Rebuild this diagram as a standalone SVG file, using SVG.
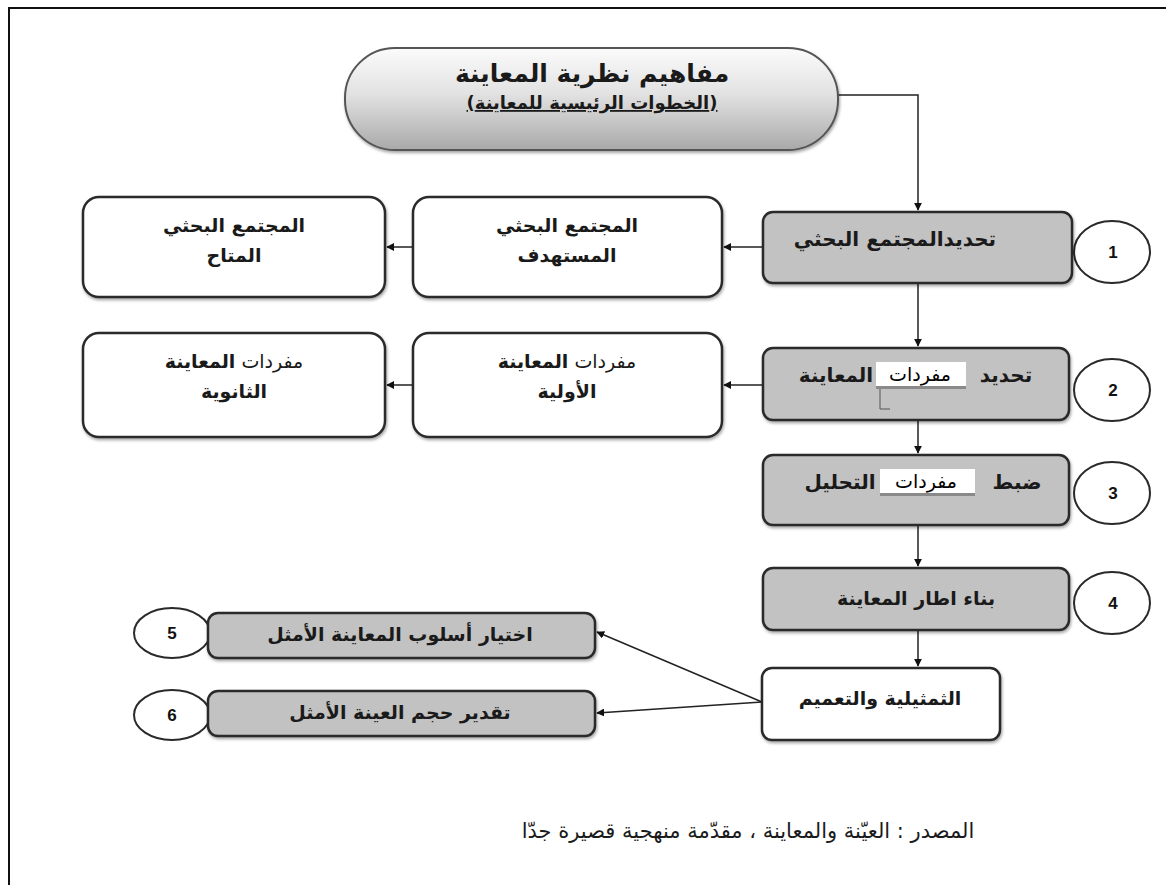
<svg xmlns="http://www.w3.org/2000/svg" width="1166" height="885" viewBox="0 0 1166 885">
<style>
.gbox{fill:#c2c2c2;stroke:#2a2a2a;stroke-width:2.5}
.wbox{fill:#ffffff;stroke:#2a2a2a;stroke-width:2.5}
.circ{fill:#ffffff;stroke:#2a2a2a;stroke-width:2}
.t{font-family:"DejaVu Sans",sans-serif;font-weight:bold;fill:#1a1a1a;text-anchor:middle}
.tw{font-family:"DejaVu Sans",sans-serif;fill:#1a1a1a;text-anchor:middle}
.num{font-family:"Liberation Sans",Arial,sans-serif;font-weight:bold;font-size:17px;fill:#111;text-anchor:middle}
.conn{stroke:#222;stroke-width:1.5;fill:none}
.patch{fill:#ffffff}
.pt{font-family:"Liberation Sans","DejaVu Sans",sans-serif;font-size:19px;fill:#000;text-anchor:middle}
</style>
<defs>
<marker id="arr" viewBox="0 0 10 10" refX="9" refY="5" markerWidth="8" markerHeight="8" markerUnits="userSpaceOnUse" orient="auto">
<path d="M0,0 L10,5 L0,10 z" fill="#111"/>
</marker>
<linearGradient id="pillg" x1="0" y1="0" x2="0" y2="1">
<stop offset="0" stop-color="#fbfbfb"/>
<stop offset="0.45" stop-color="#e2e2e2"/>
<stop offset="1" stop-color="#a9a9a9"/>
</linearGradient>
<filter id="sh" x="-5%" y="-5%" width="110%" height="120%">
<feDropShadow dx="1" dy="2" stdDeviation="1.5" flood-color="#000" flood-opacity="0.35"/>
</filter>
</defs>
<rect width="1166" height="885" fill="#ffffff"/>
<path d="M9,885 L9,8 L1166,8" fill="none" stroke="#111" stroke-width="2"/>

<g id="connectors">
<path class="conn" d="M838,95 H918 V210" marker-end="url(#arr)"/>
<path class="conn" d="M918,283 V346" marker-end="url(#arr)"/>
<path class="conn" d="M918,420 V453" marker-end="url(#arr)"/>
<path class="conn" d="M918,525 V566" marker-end="url(#arr)"/>
<path class="conn" d="M918,630 V666" marker-end="url(#arr)"/>
<path class="conn" d="M763,247 H724" marker-end="url(#arr)"/>
<path class="conn" d="M413,247 H387" marker-end="url(#arr)"/>
<path class="conn" d="M763,385 H724" marker-end="url(#arr)"/>
<path class="conn" d="M413,385 H387" marker-end="url(#arr)"/>
<path class="conn" d="M762,702 L597,632" marker-end="url(#arr)"/>
<path class="conn" d="M762,702 L597,713" marker-end="url(#arr)"/>
</g>

<g id="title">
<rect x="345" y="48" width="493" height="102" rx="50" ry="50" fill="url(#pillg)" stroke="#555" stroke-width="2" filter="url(#sh)"/>
<text class="t" x="592" y="82" font-size="25">مفاهيم نظرية المعاينة</text>
<text class="t" x="592" y="109" font-size="18" text-decoration="underline">(الخطوات الرئيسية للمعاينة)</text>
</g>

<g id="step1">
<ellipse class="circ" cx="1112" cy="252" rx="38" ry="31"/>
<text class="num" x="1113" y="258">1</text>
<rect class="gbox" x="763" y="212" width="309" height="71" rx="10" filter="url(#sh)"/>
<text class="t" x="895" y="246" font-size="20">تحديدالمجتمع البحثي</text>
</g>

<g id="target">
<rect class="wbox" x="413" y="197" width="309" height="100" rx="16" filter="url(#sh)"/>
<text class="t" x="567" y="232" font-size="19">المجتمع البحثي</text>
<text class="t" x="567" y="262" font-size="19">المستهدف</text>
</g>

<g id="available">
<rect class="wbox" x="83" y="197" width="302" height="100" rx="16" filter="url(#sh)"/>
<text class="t" x="234" y="232" font-size="19">المجتمع البحثي</text>
<text class="t" x="234" y="262" font-size="19">المتاح</text>
</g>

<g id="step2">
<ellipse class="circ" cx="1112" cy="390" rx="38" ry="31"/>
<text class="num" x="1113" y="396">2</text>
<rect class="gbox" x="763" y="348" width="306" height="72" rx="10" filter="url(#sh)"/>
<text class="t" x="1006" y="382" font-size="20">تحديد</text>
<text class="t" x="836" y="382" font-size="20">المعاينة</text>
<rect x="876" y="384" width="90" height="5" fill="#8a8a8a"/>
<rect class="patch" x="876" y="362" width="90" height="24"/>
<text class="pt" x="920" y="381">مفردات</text>
<path d="M880,389 V409 M880,409 H890" stroke="#555" stroke-width="1" fill="none"/>
</g>

<g id="primary">
<rect class="wbox" x="413" y="333" width="309" height="104" rx="16" filter="url(#sh)"/>
<text class="tw" x="567" y="368" font-size="19">مفردات <tspan font-weight="bold">المعاينة</tspan></text>
<text class="t" x="567" y="398" font-size="19">الأولية</text>
</g>

<g id="secondary">
<rect class="wbox" x="83" y="333" width="302" height="104" rx="16" filter="url(#sh)"/>
<text class="tw" x="234" y="368" font-size="19">مفردات <tspan font-weight="bold">المعاينة</tspan></text>
<text class="t" x="234" y="398" font-size="19">الثانوية</text>
</g>

<g id="step3">
<ellipse class="circ" cx="1112" cy="493" rx="38" ry="31"/>
<text class="num" x="1113" y="499">3</text>
<rect class="gbox" x="763" y="455" width="306" height="70" rx="10" filter="url(#sh)"/>
<text class="t" x="1017" y="489" font-size="20">ضبط</text>
<text class="t" x="840" y="489" font-size="20">التحليل</text>
<rect x="880" y="491" width="95" height="5" fill="#8a8a8a"/>
<rect class="patch" x="880" y="469" width="95" height="24"/>
<text class="pt" x="926" y="488">مفردات</text>
</g>

<g id="step4">
<ellipse class="circ" cx="1112" cy="603" rx="38" ry="31"/>
<text class="num" x="1113" y="609">4</text>
<rect class="gbox" x="763" y="568" width="306" height="62" rx="10" filter="url(#sh)"/>
<text class="t" x="916" y="605" font-size="19">بناء اطار المعاينة</text>
</g>

<g id="generalize">
<rect class="wbox" x="762" y="668" width="238" height="72" rx="10" filter="url(#sh)"/>
<text class="t" x="880" y="705" font-size="19">الثمثيلية والتعميم</text>
</g>

<g id="step5">
<ellipse class="circ" cx="172" cy="633" rx="38" ry="25"/>
<text class="num" x="172" y="639">5</text>
<rect class="gbox" x="208" y="613" width="387" height="45" rx="10" filter="url(#sh)"/>
<text class="t" x="400" y="641" font-size="19">اختيار أسلوب المعاينة الأمثل</text>
</g>

<g id="step6">
<ellipse class="circ" cx="172" cy="715" rx="38" ry="25"/>
<text class="num" x="172" y="721">6</text>
<rect class="gbox" x="208" y="691" width="387" height="45" rx="10" filter="url(#sh)"/>
<text class="t" x="400" y="719" font-size="19">تقدير حجم العينة الأمثل</text>
</g>

<g id="source">
<text class="tw" x="748" y="838" font-size="21">المصدر :  العيّنة والمعاينة ، مقدّمة منهجية قصيرة جدّا</text>
</g>
</svg>
